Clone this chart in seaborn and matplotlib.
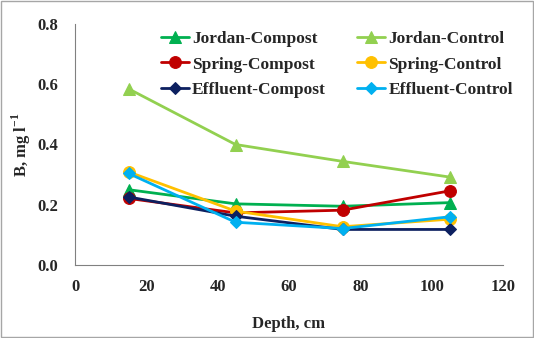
import matplotlib
matplotlib.use("Agg")
import matplotlib.pyplot as plt
import seaborn as sns
import pandas as pd
from matplotlib.patches import Rectangle
from matplotlib.ticker import MultipleLocator

sns.set_style("white")
plt.rcParams["font.family"] = ["Liberation Serif", "DejaVu Serif"]
plt.rcParams["font.weight"] = "bold"

depth = [15, 45, 75, 105]
series_names = ["Jordan-Compost", "Jordan-Control", "Spring-Compost",
                "Spring-Control", "Effluent-Compost", "Effluent-Control"]
jordan_compost = [0.250, 0.203, 0.195, 0.207]
jordan_control = [0.585, 0.400, 0.344, 0.292]
spring_compost = [0.221, 0.173, 0.182, 0.246]
spring_control = [0.309, 0.179, 0.127, 0.152]
effluent_compost = [0.226, 0.162, 0.118, 0.118]
effluent_control = [0.304, 0.142, 0.121, 0.160]
y_ticks = [0.0, 0.2, 0.4, 0.6, 0.8]

values = [jordan_compost, jordan_control, spring_compost,
          spring_control, effluent_compost, effluent_control]
colors = ["#00B050", "#92D050", "#C00000", "#FFC000", "#0D2060", "#00B0F0"]
markers = ["^", "^", "o", "o", "D", "D"]
msizes = [8, 8, 8.5, 8.5, 6.5, 6.5]

rows = []
for name, vals in zip(series_names, values):
    for d, v in zip(depth, vals):
        rows.append({"Depth": d, "B": v, "Series": name})
df = pd.DataFrame(rows)

fig = plt.figure(figsize=(5.34, 3.38), dpi=100)
ax = fig.add_axes([75 / 534, 1 - 265 / 338, 428 / 534, 241 / 338])

for name, col, mk, ms in zip(series_names, colors, markers, msizes):
    sub = df[df["Series"] == name]
    sns.lineplot(data=sub, x="Depth", y="B", ax=ax, color=col, marker=mk,
                 markersize=ms, markeredgecolor=col, linewidth=2.0,
                 label=name, estimator=None, sort=False)

ax.xaxis.set_major_locator(MultipleLocator(20))
ax.xaxis.set_minor_locator(MultipleLocator(10))
ax.set_yticks(y_ticks)
ax.set_yticklabels([f"{v:.1f}" for v in y_ticks])
ax.yaxis.set_minor_locator(MultipleLocator(0.1))
ax.set_xlim(0, 120)
ax.set_ylim(0, 0.8)
ax.tick_params(axis="both", which="both", direction="out", length=4,
               width=0.8, color="#808080", labelsize=12, pad=6)
ax.tick_params(axis="y", pad=8)
for lbl in ax.get_xticklabels() + ax.get_yticklabels():
    lbl.set_fontweight("bold")

for side in ["top", "right"]:
    ax.spines[side].set_visible(False)
for side in ["left", "bottom"]:
    ax.spines[side].set_color("#808080")
    ax.spines[side].set_linewidth(0.8)

ax.set_xlabel("Depth, cm", fontsize=12, fontweight="bold", labelpad=15)
ax.set_ylabel("B, mg l$^{\\mathregular{-1}}$", fontsize=12,
              fontweight="bold", labelpad=3)

handles, labels = ax.get_legend_handles_labels()
order = [0, 2, 4, 1, 3, 5]
leg = ax.legend([handles[i] for i in order], [labels[i] for i in order],
                ncol=2, loc="upper right", bbox_to_anchor=(1.06, 1.035),
                frameon=False, handlelength=1.6,
                handletextpad=0.2, columnspacing=1.8, labelspacing=0.52,
                prop={"weight": "bold", "size": 12.5})

fig.patches.append(Rectangle((0.002, 0.003), 0.996, 0.994,
                             transform=fig.transFigure, fill=False,
                             edgecolor="#A6A6A6", linewidth=1.0))

fig.savefig("out.png", dpi=100)
